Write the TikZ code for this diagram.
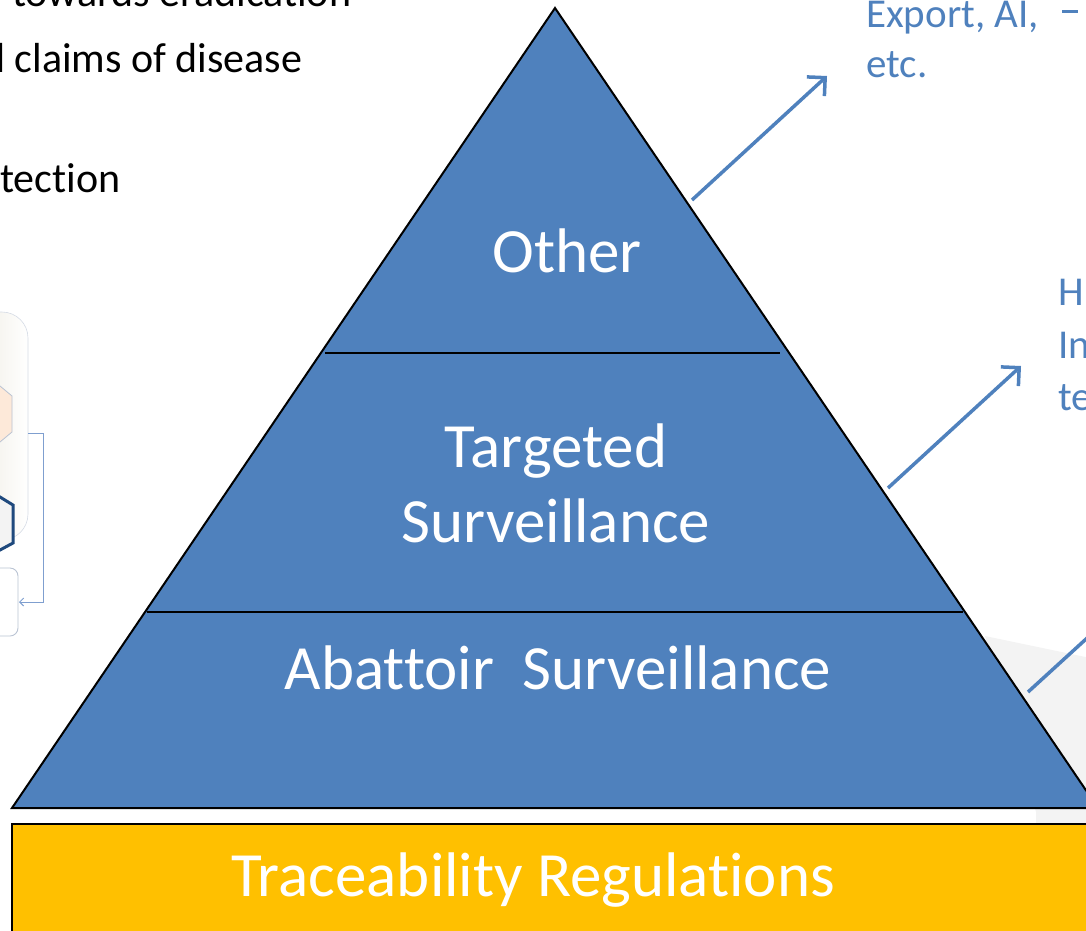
\documentclass[tikz,border=0pt]{standalone}
\usepackage{fontspec}
\setmainfont{Carlito}[Ligatures=NoCommon]
\usetikzlibrary{arrows.meta}
\definecolor{pyr}{HTML}{4F81BD}
\definecolor{gold}{HTML}{FFC000}
\definecolor{lightgray}{HTML}{F3F3F3}
\definecolor{beige}{HTML}{E6E2D3}
\definecolor{peach}{HTML}{FDE9D9}
\definecolor{navy}{HTML}{1F497D}
\definecolor{connblue}{HTML}{7F9FCF}
\definecolor{boxedge}{HTML}{B9C3D3}
\begin{document}
\begin{tikzpicture}[x=1pt,y=-1pt,
  big/.style={font=\fontsize{63}{75}\selectfont, text=white, inner sep=0},
  side/.style={font=\fontsize{41}{52}\selectfont, text=pyr, inner sep=0, anchor=base west},
  body/.style={font=\fontsize{42}{52}\selectfont, text=black, inner sep=0, anchor=base west},
  callout/.style={draw=pyr, line width=3.5pt, -{Straight Barb[length=13pt,width=26pt,line width=3.5pt]}},
  divider/.style={draw=black, line width=2pt}]
\useasboundingbox (0,0) rectangle (1086,930);
\clip (0,0) rectangle (1086,930);

% light gray background shape at lower right
\fill[lightgray] (985,636) -- (1100,660) -- (1100,940) -- (1036,940) -- (1036,812) -- cycle;

% left partial graphics
\shade[left color=beige, right color=white, draw=boxedge!60, line width=0.6pt, rounded corners=26pt]
  (-60,312) rectangle (28,540);
\filldraw[fill=peach, draw=boxedge, line width=0.8pt] (-10,382) -- (0,386) -- (12,396) -- (12,432) -- (0,442) -- (-10,446) -- cycle;
\filldraw[fill=lightgray, draw=navy, line width=3pt] (-10,492) -- (0,497) -- (13,505) -- (13,543) -- (0,550) -- (-10,555) -- cycle;
\draw[boxedge, line width=0.9pt, rounded corners=8pt] (-40,568) rectangle (18,636);
\coordinate (lbout) at (28,433);
\coordinate (lbin) at (19,602);
\draw[connblue, line width=1pt, -{Straight Barb[length=4pt,width=8pt]}] (lbout) -- (43,433) -- (43,602) -- (lbin);

% left body text
\node[body] (t1) at (12,6) {towards eradication};
\node[body] (t2) at (-17,72) {d claims of disease};
\node[body] (t3) at (0,192) {tection};

% pyramid
\path[fill=pyr, draw=black, line width=2pt] (555,8) coordinate (apex) -- (12,808) coordinate (bl) -- (1098,808) coordinate (br) -- cycle;
\draw[divider] (325,353) coordinate (d1l) -- (780,353) coordinate (d1r);
\draw[divider] (147,612) coordinate (d2l) -- (963,612) coordinate (d2r);

\node[big, anchor=base] (other) at (567,272) {Other};
\node[big, anchor=base] (targ) at (556,467) {Targeted};
\node[big, anchor=base] (surv) at (556,542) {Surveillance};
\node[big, anchor=base] (abat) at (558,689) {Abattoir\ \ Surveillance};

% traceability base
\path[fill=gold, draw=black, line width=2pt] (12,824) rectangle (1110,950);
\node[big, anchor=base] (trace) at (533,896) {Traceability Regulations};

% right side labels
\node[side] (exp) at (866,27) {Export, AI,};
\node[side] (etc) at (866,77) {etc.};
\draw[pyr, line width=3pt] (1062,11) coordinate (dashl) -- (1078,11) coordinate (dashr);
\node[side] (h) at (1058,305) {H};
\node[side] (in) at (1058,358) {In};
\node[side] (te) at (1058,410) {te};

% callout arrows
\coordinate (a1s) at (692,200);
\coordinate (a1e) at (827,76);
\coordinate (a2s) at (888,488);
\coordinate (a2e) at (1021,366);
\coordinate (a3s) at (1028,692);
\coordinate (a3e) at (1120,608);
\draw[callout] (a1s) -- (a1e);
\draw[callout] (a2s) -- (a2e);
\draw[draw=pyr, line width=3.5pt] (a3s) -- (a3e);
\end{tikzpicture}
\end{document}
